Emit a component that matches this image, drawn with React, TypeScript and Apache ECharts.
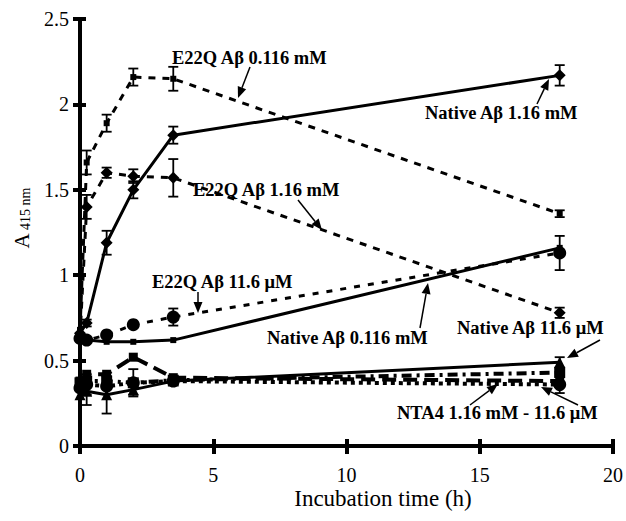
import React, { useEffect, useRef } from "react";
import * as echarts from "echarts";

// Incubation times (h)
const times = [0, 0.25, 1, 2, 3.5, 18];

// Series values (A415)
const e22q0116mM = [0.68, 1.66, 1.89, 2.16, 2.15, 1.36];
const e22q0116mMErr = [0, 0.07, 0.05, 0.05, 0.07, 0.02];
const e22q116mM = [0.64, 1.4, 1.6, 1.58, 1.57, 0.78];
const e22q116mMErr = [0, 0.07, 0.03, 0.04, 0.11, 0.03];
const native116mM = [0.66, 0.72, 1.19, 1.5, 1.82, 2.17];
const native116mMErr = [0, 0.02, 0.07, 0.05, 0.05, 0.06];
const native0116mM = [0.62, 0.62, 0.61, 0.61, 0.62, 1.16];
const native0116mMErr = [0, 0, 0, 0, 0, 0];
const e22q116uM = [0.63, 0.62, 0.65, 0.71, 0.755, 1.13];
const e22q116uMErr = [0, 0, 0, 0, 0.05, 0.1];
const native116uM = [0.3, 0.32, 0.3, 0.33, 0.38, 0.49];
const native116uMErr = [0, 0.08, 0.11, 0.03, 0.02, 0.03];
const nta4A = [0.38, 0.42, 0.42, 0.52, 0.4, 0.38];
const nta4AErr = [0, 0, 0, 0, 0, 0];
const nta4B = [0.37, 0.38, 0.38, 0.37, 0.385, 0.43];
const nta4BErr = [0, 0, 0, 0.08, 0, 0];
const nta4C = [0.34, 0.36, 0.35, 0.37, 0.38, 0.36];
const nta4CErr = [0, 0.06, 0, 0, 0, 0.05];

// Axis ticks
const xTicks = [0, 5, 10, 15, 20];
const yTicks = [0, 0.5, 1, 1.5, 2, 2.5];

const FONT = '"Liberation Serif", "Times New Roman", serif';

type S = {
  name: string;
  values: number[];
  err: number[];
  symbol: string;
  size: number;
  dash: any;
  width: number;
};

const seriesDefs: S[] = [
  { name: "E22Q 0.116 mM", values: e22q0116mM, err: e22q0116mMErr, symbol: "rect", size: 6, dash: [7, 7], width: 3 },
  { name: "E22Q 1.16 mM", values: e22q116mM, err: e22q116mMErr, symbol: "diamond", size: 12, dash: [7, 7], width: 3 },
  { name: "Native 1.16 mM", values: native116mM, err: native116mMErr, symbol: "diamond", size: 12, dash: "solid", width: 3 },
  { name: "Native 0.116 mM", values: native0116mM, err: native0116mMErr, symbol: "rect", size: 6, dash: "solid", width: 3 },
  { name: "E22Q 11.6 uM", values: e22q116uM, err: e22q116uMErr, symbol: "circle", size: 13, dash: [6, 8], width: 3 },
  { name: "Native 11.6 uM", values: native116uM, err: native116uMErr, symbol: "triangle", size: 11, dash: "solid", width: 3 },
  { name: "NTA4 A", values: nta4A, err: nta4AErr, symbol: "rect", size: 9, dash: [14, 7], width: 4 },
  { name: "NTA4 B", values: nta4B, err: nta4BErr, symbol: "rect", size: 11, dash: [10, 5, 3, 5], width: 4 },
  { name: "NTA4 C", values: nta4C, err: nta4CErr, symbol: "circle", size: 13, dash: [4, 4], width: 4 },
];

const annotations = [
  { text: "E22Q Aβ 0.116 mM", x: 172, y: 58, arrows: [[250, 67, 238, 98]] },
  { text: "Native Aβ 1.16 mM", x: 425, y: 113, arrows: [[537, 104, 549, 79]] },
  { text: "E22Q Aβ 1.16 mM", x: 193, y: 190, arrows: [[298, 200, 322, 230]] },
  { text: "E22Q Aβ 11.6 μM", x: 152, y: 282, arrows: [[198, 292, 198, 313]] },
  { text: "Native Aβ 0.116 mM", x: 267, y: 338, arrows: [[420, 328, 428, 283]] },
  { text: "Native Aβ 11.6 μM", x: 457, y: 328, arrows: [[600, 340, 567, 358]] },
  {
    text: "NTA4 1.16 mM - 11.6 μM",
    x: 397,
    y: 413,
    arrows: [
      [470, 405, 498, 384],
      [578, 405, 541, 387],
    ],
  },
];

function arrowGraphics(a: number[]) {
  const [x1, y1, x2, y2] = a;
  const dx = x2 - x1;
  const dy = y2 - y1;
  const len = Math.sqrt(dx * dx + dy * dy);
  const ux = dx / len;
  const uy = dy / len;
  const nx = -uy;
  const ny = ux;
  const L = 11;
  const W = 4.5;
  const bx = x2 - ux * L;
  const by = y2 - uy * L;
  return [
    { type: "line", shape: { x1, y1, x2: bx, y2: by }, style: { stroke: "#000", lineWidth: 1.5 }, z: 100 },
    {
      type: "polygon",
      shape: { points: [[x2, y2], [bx + nx * W, by + ny * W], [bx - nx * W, by - ny * W]] },
      style: { fill: "#000" },
      z: 100,
    },
  ];
}

export default function App() {
  const ref = useRef<HTMLDivElement>(null);
  useEffect(() => {
    if (!ref.current) return;
    const chart = echarts.init(ref.current, undefined, { renderer: "svg" });

    const errData: number[][] = [];
    seriesDefs.forEach((s) => {
      s.values.forEach((v, i) => {
        if (s.err[i] > 0.015) errData.push([times[i], v - s.err[i], v + s.err[i]]);
      });
    });

    const lineSeries = seriesDefs.map((s) => ({
      name: s.name,
      type: "line",
      data: times.map((t, i) => [t, s.values[i]]),
      symbol: s.symbol,
      symbolSize: s.size,
      showSymbol: true,
      itemStyle: { color: "#000" },
      lineStyle: { color: "#000", width: s.width, type: s.dash },
      z: 5,
    }));

    const graphics: any[] = [];
    annotations.forEach((a) => {
      graphics.push({
        type: "text",
        x: a.x,
        y: a.y,
        z: 100,
        style: {
          text: a.text,
          fontFamily: FONT,
          fontWeight: "bold",
          fontSize: 18.5,
          fill: "#000",
          align: "left",
          verticalAlign: "middle",
        },
      });
      a.arrows.forEach((ar) => graphics.push(...arrowGraphics(ar)));
    });
    graphics.push({
      type: "text",
      x: 22,
      y: 218,
      rotation: Math.PI / 2,
      style: {
        text: "{a|A} {b|415 nm}",
        align: "center",
        verticalAlign: "middle",
        rich: {
          a: { fontFamily: FONT, fontSize: 21, fill: "#000" },
          b: { fontFamily: FONT, fontSize: 14, fill: "#000", padding: [7, 0, 0, 0] },
        },
      },
    });
    graphics.push({
      type: "text",
      x: 383,
      y: 498,
      style: {
        text: "Incubation time (h)",
        fontFamily: FONT,
        fontSize: 23,
        fill: "#000",
        align: "center",
        verticalAlign: "middle",
      },
    });

    const baseX = {
      type: "value",
      min: xTicks[0],
      max: xTicks[xTicks.length - 1],
      interval: 5,
      splitLine: { show: false },
    };
    const baseY = {
      type: "value",
      min: yTicks[0],
      max: yTicks[yTicks.length - 1],
      interval: 0.5,
      splitLine: { show: false },
    };

    chart.setOption({
      animation: false,
      backgroundColor: "#fff",
      grid: { left: 80, right: 9, top: 19, bottom: 75, containLabel: false },
      xAxis: [
        {
          ...baseX,
          position: "bottom",
          axisLine: { show: true, onZero: false, lineStyle: { color: "#000", width: 4 } },
          axisTick: { show: true, inside: false, length: 8, lineStyle: { color: "#000", width: 4 } },
          axisLabel: { color: "#000", fontFamily: FONT, fontSize: 20, margin: 19 },
        },
        {
          ...baseX,
          position: "bottom",
          axisLine: { show: false, onZero: false },
          axisTick: { show: true, inside: true, length: 7, lineStyle: { color: "#000", width: 4 } },
          axisLabel: { show: false },
        },
      ],
      yAxis: [
        {
          ...baseY,
          position: "left",
          axisLine: { show: true, onZero: false, lineStyle: { color: "#000", width: 4 } },
          axisTick: { show: true, inside: false, length: 7, lineStyle: { color: "#000", width: 4 } },
          axisLabel: {
            color: "#000",
            fontFamily: FONT,
            fontSize: 20,
            margin: 11,
            formatter: (v: number) => String(v),
          },
        },
        {
          ...baseY,
          position: "left",
          axisLine: { show: false, onZero: false },
          axisTick: { show: true, inside: true, length: 6, lineStyle: { color: "#000", width: 4 } },
          axisLabel: { show: false },
        },
      ],
      series: [
        ...lineSeries,
        {
          type: "custom",
          name: "errors",
          data: errData,
          encode: { x: 0, y: [1, 2] },
          z: 6,
          clip: false,
          renderItem: (params: any, api: any) => {
            const x = api.value(0);
            const lo = api.coord([x, api.value(1)]);
            const hi = api.coord([x, api.value(2)]);
            const cw = 5;
            const st = { stroke: "#000", lineWidth: 1.8 };
            return {
              type: "group",
              children: [
                { type: "line", shape: { x1: lo[0], y1: lo[1], x2: hi[0], y2: hi[1] }, style: st },
                { type: "line", shape: { x1: lo[0] - cw, y1: lo[1], x2: lo[0] + cw, y2: lo[1] }, style: st },
                { type: "line", shape: { x1: hi[0] - cw, y1: hi[1], x2: hi[0] + cw, y2: hi[1] }, style: st },
              ],
            };
          },
        },
      ],
      graphic: graphics,
    });

    return () => chart.dispose();
  }, []);

  return (
    <div
      ref={ref}
      style={{ position: "fixed", left: 0, top: 0, width: 626, height: 521, background: "#fff" }}
    />
  );
}
